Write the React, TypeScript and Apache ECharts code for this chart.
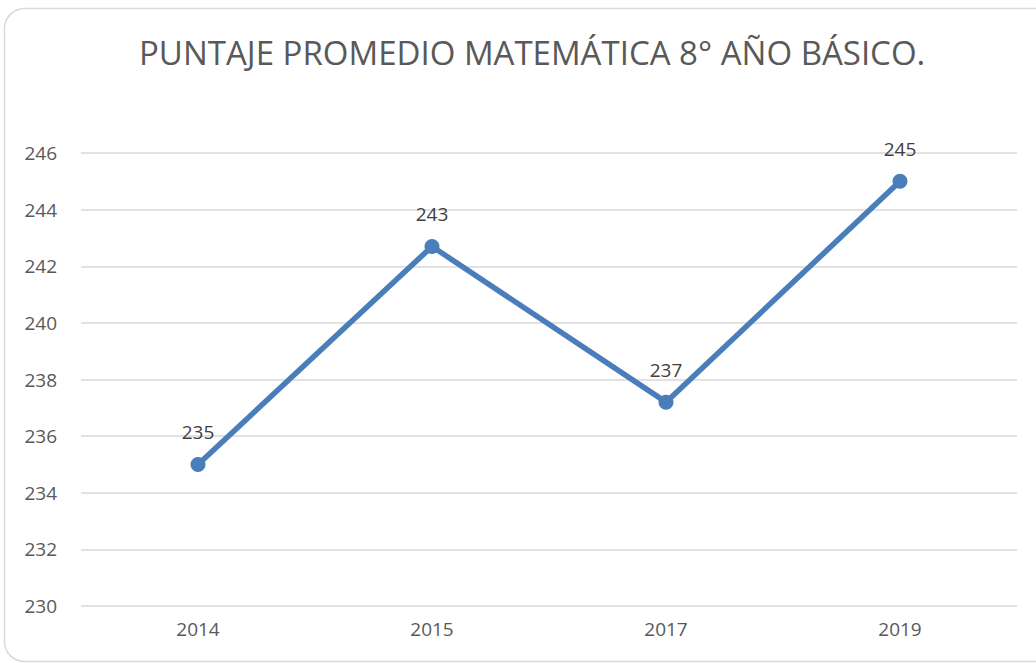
import React, { useEffect, useRef } from "react";
import * as echarts from "echarts";

const titleText = "PUNTAJE PROMEDIO MATEMÁTICA 8° AÑO BÁSICO.";
const years = ["2014", "2015", "2017", "2019"];
const scores = [235.0, 242.7, 237.2, 245.0];
const scoreLabels = ["235", "243", "237", "245"];

export default function App() {
  const ref = useRef<HTMLDivElement>(null);
  useEffect(() => {
    if (!ref.current) return;
    const chart = echarts.init(ref.current, null, { renderer: "svg" });
    chart.setOption({
      animation: false,
      backgroundColor: "#ffffff",
      graphic: [
        {
          type: "rect",
          shape: { x: 4.5, y: 8.5, width: 1060, height: 653, r: 20 },
          style: { fill: "none", stroke: "#d9d9d9", lineWidth: 1.5 },
          z: -1,
        },
      ],
      title: {
        text: titleText,
        left: 134,
        top: 31,
        textStyle: {
          fontFamily: "Open Sans",
          fontSize: 33,
          fontWeight: "normal",
          color: "#595959",
        },
      },
      grid: { left: 81, right: 19, top: 153, bottom: 57 },
      xAxis: {
        type: "category",
        data: years,
        boundaryGap: true,
        axisLine: { show: false },
        axisTick: { show: false },
        axisLabel: {
          color: "#595959",
          fontFamily: "Open Sans",
          fontSize: 19,
          margin: 13,
        },
      },
      yAxis: {
        type: "value",
        min: 230,
        max: 246,
        interval: 2,
        axisLine: { show: false },
        axisTick: { show: false },
        splitLine: { lineStyle: { color: "#d9d9d9", width: 1.5 } },
        axisLabel: {
          color: "#595959",
          fontFamily: "Open Sans",
          fontSize: 19,
          margin: 24,
        },
      },
      series: [
        {
          type: "line",
          data: scores,
          symbol: "circle",
          symbolSize: 15,
          lineStyle: { color: "#4a7ebb", width: 5.5 },
          itemStyle: { color: "#4a7ebb" },
          label: {
            show: true,
            position: "top",
            distance: 15,
            color: "#404040",
            fontFamily: "Open Sans",
            fontSize: 19,
            formatter: (p: any) => scoreLabels[p.dataIndex],
          },
        },
      ],
    });
    return () => chart.dispose();
  }, []);
  return (
    <div
      ref={ref}
      style={{ position: "fixed", left: 0, top: 0, width: 1036, height: 663 }}
    />
  );
}
